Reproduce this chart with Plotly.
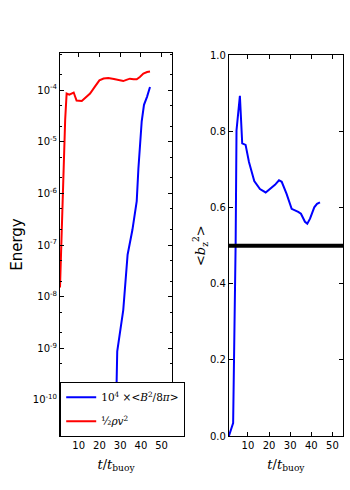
import plotly.graph_objects as go

# Left panel: kinetic energy (red) and 1e4 x magnetic energy (blue)
t_kin = [1, 2.5, 3.5, 4.2, 5.5, 7.6, 9, 11.5, 13.5, 15.5, 18, 20, 22, 24.3, 27, 29.5, 31.5, 33, 34.7, 36.5, 38, 39.5, 41.2, 43, 44.4]
e_kin = [1.5e-8, 2.5e-6, 2.7e-5, 8.6e-5, 8.2e-5, 9.0e-5, 6.3e-5, 6.2e-5, 7.2e-5, 8.6e-5, 1.2e-4, 1.55e-4, 1.68e-4, 1.72e-4, 1.65e-4, 1.55e-4, 1.5e-4, 1.58e-4, 1.67e-4, 1.63e-4, 1.62e-4, 1.8e-4, 2.1e-4, 2.25e-4, 2.3e-4]

t_mag = [18, 20, 24, 28.3, 28.6, 31.5, 33.6, 35.9, 38, 38.8, 40.4, 41.5, 43, 44.4]
e_mag = [2e-12, 2.0e-11, 1.0e-10, 2.2e-10, 8.7e-10, 5.5e-9, 6.5e-8, 1.95e-7, 7.1e-7, 3.0e-6, 2.5e-5, 5.2e-5, 7.5e-5, 1.15e-4]

# Right panel: <b_z^2>
t_bz = [1, 3.0, 4.2, 4.6, 6.2, 7.3, 8.9, 10.5, 13, 15.7, 18.4, 21.2, 22.8, 24.7, 26, 28.3, 30.7, 33.8, 35.1, 37, 38.1, 39.4, 41.4, 42.7, 44.1]
bz2 = [0.0, 0.034, 0.51, 0.803, 0.894, 0.769, 0.765, 0.72, 0.67, 0.649, 0.64, 0.653, 0.66, 0.672, 0.668, 0.636, 0.597, 0.589, 0.584, 0.563, 0.558, 0.571, 0.601, 0.610, 0.614]
bz_ref = 0.5

log_tickvals = [1e-10, 1e-9, 1e-8, 1e-7, 1e-6, 1e-5, 1e-4]
log_ticktext = ["10<sup>-10</sup>", "10<sup>-9</sup>", "10<sup>-8</sup>", "10<sup>-7</sup>",
                "10<sup>-6</sup>", "10<sup>-5</sup>", "10<sup>-4</sup>"]
x_ticks = [10, 20, 30, 40, 50]
y_ticks = [0.0, 0.2, 0.4, 0.6, 0.8, 1.0]

fig = go.Figure()
fig.add_trace(go.Scatter(x=t_mag, y=e_mag, mode="lines", line=dict(color="#0000ff", width=2),
                         name="10<sup>4</sup> ×&lt;<i>B</i><sup>2</sup>/8<i>π</i>&gt;", legendgroup="a",
                         xaxis="x", yaxis="y"))
fig.add_trace(go.Scatter(x=t_kin, y=e_kin, mode="lines", line=dict(color="#ff0000", width=2),
                         name="½<i>ρv</i><sup>2</sup>", legendgroup="b", xaxis="x", yaxis="y"))
fig.add_trace(go.Scatter(x=t_bz, y=bz2, mode="lines", line=dict(color="#0000ff", width=2),
                         showlegend=False, xaxis="x2", yaxis="y2"))
fig.add_trace(go.Scatter(x=[1, 55], y=[bz_ref, bz_ref], mode="lines", line=dict(color="black", width=4),
                         showlegend=False, xaxis="x2", yaxis="y2"))

axis_common = dict(showgrid=False, zeroline=False, showline=True, linecolor="black", linewidth=1,
                   mirror="ticks", ticks="inside", ticklen=4, tickcolor="black",
                   tickfont=dict(family="DejaVu Sans", size=10, color="black"))

xt = "<i>t</i>/<i>t</i><sub>buoy</sub>"
fig.update_layout(
    width=350, height=490,
    margin=dict(l=0, r=0, t=0, b=0),
    paper_bgcolor="white", plot_bgcolor="white",
    xaxis=dict(domain=[0.1714, 0.4914], range=[1, 55], tickvals=x_ticks, anchor="y",
               title=dict(text=xt, font=dict(family="DejaVu Serif", size=13, color="black"), standoff=9),
               **axis_common),
    yaxis=dict(domain=[0.102, 0.9], type="log", range=[-10.7, -3.28], tickvals=log_tickvals,
               ticktext=log_ticktext, anchor="x",
               minor=dict(ticks="inside", ticklen=2, tickcolor="black", showgrid=False),
               title=dict(text="Energy", font=dict(family="DejaVu Sans", size=15, color="black"), standoff=6),
               **axis_common),
    xaxis2=dict(domain=[0.654, 0.98], range=[1, 55], tickvals=x_ticks, anchor="y2",
                title=dict(text=xt, font=dict(family="DejaVu Serif", size=13, color="black"), standoff=9),
                **axis_common),
    yaxis2=dict(domain=[0.102, 0.895], range=[0, 1], tickvals=y_ticks, tickformat=".1f", anchor="x2",
                title=dict(text="&lt;<i>b</i><sub>z</sub><sup>2</sup>&gt;",
                           font=dict(family="DejaVu Serif", size=13, color="black"), standoff=1),
                **axis_common),
    legend=dict(x=0.172, y=0.215, xanchor="left", yanchor="top", bgcolor="white",
                bordercolor="black", borderwidth=1,
                font=dict(family="DejaVu Serif", size=10.5, color="black"),
                itemwidth=30, tracegroupgap=5),
    showlegend=True,
)

fig.write_html("out.html", post_script="document.body.style.margin='0';",
               config={"displayModeBar": False})
